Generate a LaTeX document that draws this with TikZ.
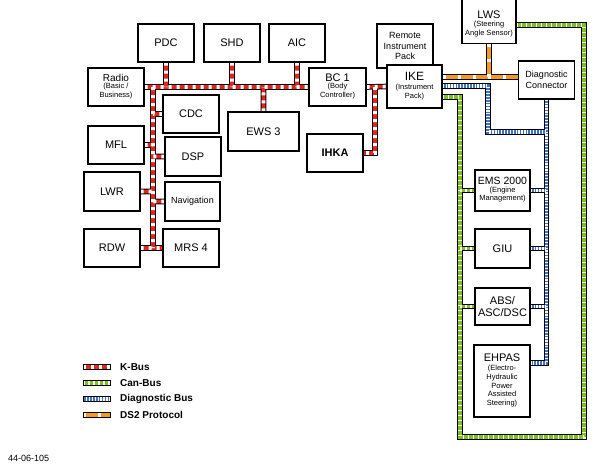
\documentclass[tikz,border=0pt]{standalone}
\usepackage{fontspec}
\setmainfont{Liberation Sans}
\usetikzlibrary{backgrounds}

\definecolor{kred}{HTML}{E3241B}
\definecolor{cgreen}{HTML}{7CC11F}
\definecolor{dblue}{HTML}{3F72C6}
\definecolor{dorange}{HTML}{F59B1C}

\newcommand{\subtxt}[1]{{\fontsize{7.5}{8.8}\selectfont\begin{tabular}{@{}c@{}}#1\end{tabular}}}

\begin{document}
\begin{tikzpicture}[x=1pt, y=-1pt,
        box/.style={draw, line width=1.3pt, fill=white, minimum width=56pt, minimum height=38pt,
            inner sep=0.5pt, align=center, font=\fontsize{11}{12}\selectfont},
        small/.style={font=\fontsize{9}{10.5}\selectfont},
        legend/.style={font=\fontsize{10}{12}\selectfont\bfseries, inner sep=0pt},
        bus/.style={line width=5.6pt, draw=black, postaction={draw=#1, line width=3.6pt}},
        kbus/.style={bus=kred, postaction={draw=white, line width=3.6pt, dash pattern=on 3pt off 5pt}},
        canbus/.style={bus=cgreen, postaction={draw=white, line width=3.6pt, dash pattern=on 1.8pt off 3.2pt}},
        diagbus/.style={bus=dblue, postaction={draw=white, line width=3.6pt, dash pattern=on 1.3pt off 1.6pt}},
        dsbus/.style={bus=dorange, postaction={draw=white, line width=3.6pt, dash pattern=on 3pt off 12pt}}]
    \useasboundingbox (0,0) rectangle (602,471);
    \clip (0,0) rectangle (602,471);

    % Modules on the K-Bus
    \node[box] (pdc) at (166,43) {PDC};
    \node[box] (shd) at (232,43) {SHD};
    \node[box] (aic) at (297,43) {AIC};
    \node[box, font=\fontsize{10}{11}\selectfont] (radio) at (116,87) {Radio\\\subtxt{(Basic /\\Business)}};
    \node[box, minimum width=57pt] (bc1) at (337.5,87) {BC 1\\\subtxt{(Body\\Controller)}};
    \node[box] (cdc) at (191,114) {CDC};
    \node[box, minimum width=71pt, minimum height=39pt] (ews) at (263.5,131.5) {EWS 3};
    \node[box] (mfl) at (116,145) {MFL};
    \node[box, minimum height=39pt] (dsp) at (193,156.5) {DSP};
    \node[box] (ihka) at (335,153) {\textbf{IHKA}};
    \node[box, minimum height=39pt] (lwr) at (112,191.5) {LWR};
    \node[box, small, minimum width=55pt, minimum height=39pt] (nav) at (192.5,201.5) {Navigation};
    \node[box] (rdw) at (112,248) {RDW};
    \node[box] (mrs) at (191,248) {MRS 4};

    % Instrument pack and diagnosis
    \node[box, small, minimum height=44pt] (rip) at (405,46) {Remote\\Instrument\\Pack};
    \node[box, font=\fontsize{12}{13}\selectfont, minimum width=55pt, minimum height=43pt] (ike) at (414.5,86.5)
        {IKE\\\subtxt{(Instrument\\Pack)}};
    \node[box, minimum width=54pt, minimum height=50pt, anchor=south] (lws) at (489,44)
        {\rule{0pt}{20pt}LWS\\\subtxt{(Steering\\Angle Sensor)}};
    \node[box, small] (diag) at (546.5,80) {Diagnostic\\Connector};

    % Modules on the Can-Bus
    \node[box, font=\fontsize{10.5}{11.5}\selectfont, minimum width=55pt, minimum height=41pt] (ems) at (502.5,190.5)
        {EMS 2000\\\subtxt{(Engine\\Management)}};
    \node[box, minimum width=55pt, minimum height=39pt] (giu) at (502.5,248.5) {GIU};
    \node[box, minimum width=55pt, minimum height=37pt] (abs) at (502.5,306.5) {ABS/\\ASC/DSC};
    \node[box, minimum height=72pt] (ehpas) at (502,381)
        {EHPAS\\[2pt]\subtxt{(Electro-\\Hydraulic\\Power\\Assisted\\Steering)}};

    % Bends of the bus lines
    \coordinate (kl) at (153,87);
    \coordinate (kr) at (375,87);
    \coordinate (cn) at (460,97);
    \coordinate (cs) at (584,437);
    \coordinate (ce) at (584,25);
    \coordinate (dn) at (488,86);
    \coordinate (dm) at (546.5,132);
    \coordinate (dend) at (546.5,363);
    \coordinate (ds) at (489,77);

    \begin{scope}[on background layer]
        % K-Bus
        \draw[kbus] (radio.east) -- (bc1.west)
            (bc1.east) -- (ike.west)
            (pdc.south) -- (pdc.south |- kl)
            (shd.south) -- (shd.south |- kl)
            (aic.south) -- (aic.south |- kl)
            (ews.north) -- (ews.north |- kl)
            (kl) -- (kl |- rdw.east)
            (cdc.west) -- (cdc.west -| kl)
            (mfl.east) -- (mfl.east -| kl)
            (dsp.west) -- (dsp.west -| kl)
            (lwr.east) -- (lwr.east -| kl)
            (nav.west) -- (nav.west -| kl)
            (rdw.east) -- (mrs.west)
            (kr) -- (kr |- ihka.east) -- (ihka.east);

        % Can-Bus
        \draw[canbus] (ike.east |- cn) -- (cn) -- (cn |- cs) -- (cs) -- (ce) -- (lws.east |- ce)
            (ems.west -| cn) -- (ems.west)
            (giu.west -| cn) -- (giu.west)
            (abs.west -| cn) -- (abs.west);

        % Diagnostic Bus
        \draw[diagbus] (ike.east |- dn) -- (dn) -- (dn |- dm) -- (dm)
            (diag.south) -- (dend) -- (dend -| ehpas.east)
            (ems.east) -- (ems.east -| dm)
            (giu.east) -- (giu.east -| dm)
            (abs.east) -- (abs.east -| dm);

        % DS2 Protocol
        \draw[dsbus] (ike.east |- ds) -- (ds -| diag.west)
            (lws.south) -- (lws.south |- ds);
    \end{scope}

    % Legend
    \foreach \st/\txt [count=\i from 0] in {kbus/K-Bus, canbus/Can-Bus, diagbus/Diagnostic Bus, dsbus/DS2 Protocol} {
        \draw[\st] (83,{367+16*\i}) -- (111,{367+16*\i});
        \draw[line width=1pt] (83.5,{364.3+16*\i}) rectangle (110.5,{369.7+16*\i});
        \node[legend, anchor=west] (leg\i) at (120,{367+16*\i}) {\txt};
    }

    \node[anchor=west, inner sep=0pt, font=\fontsize{9}{10}\selectfont] (fignum) at (8,458) {44-06-105};
\end{tikzpicture}
\end{document}
